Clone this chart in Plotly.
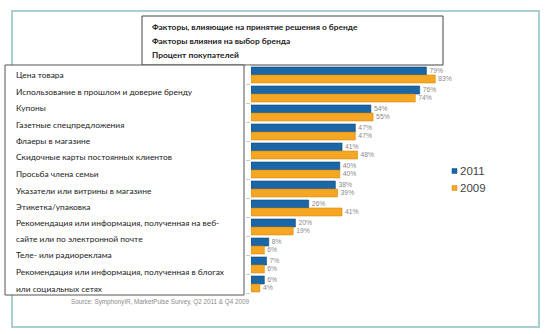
import plotly.graph_objects as go

W, H = 546, 334

categories = [
    "Цена товара",
    "Использование в прошлом и доверие бренду",
    "Купоны",
    "Газетные спецпредложения",
    "Флаеры в магазине",
    "Скидочные карты постоянных клиентов",
    "Просьба члена семьи",
    "Указатели или витрины в магазине",
    "Этикетка/упаковка",
    "Рекомендация или информация, полученная на веб-сайте или по электронной почте",
    "Теле- или радиореклама",
    "Рекомендация или информация, полученная в блогах или социальных сетях",
]
label_lines = [
    "Цена товара",
    "Использование в прошлом и доверие бренду",
    "Купоны",
    "Газетные спецпредложения",
    "Флаеры в магазине",
    "Скидочные карты постоянных клиентов",
    "Просьба члена семьи",
    "Указатели или витрины в магазине",
    "Этикетка/упаковка",
    "Рекомендация или информация, полученная на веб-",
    "сайте или по электронной почте",
    "Теле- или радиореклама",
    "Рекомендация или информация, полученная в блогах",
    "или социальных сетях",
]
series_names = ["2011", "2009"]
values_2011 = [79, 76, 54, 47, 41, 40, 38, 26, 20, 8, 7, 6]
values_2009 = [83, 74, 55, 47, 48, 40, 39, 41, 19, 6, 6, 4]
title_lines = [
    "Факторы, влияющие на принятие решения о бренде",
    "Факторы влияния на выбор бренда",
    "Процент покупателей",
]
source_text = "Source: SymphonyIR, MarketPulse Survey, Q2 2011 & Q4 2009"

colors = ["#1b66a6", "#f5a623"]
line_colors = ["#0f4a80", "#d98a10"]


def px(x):
    return x / W


def py(y):
    return 1 - y / H


fig = go.Figure()
for name, vals, c, lc in zip(series_names, [values_2011, values_2009], colors, line_colors):
    fig.add_trace(go.Bar(
        y=categories, x=vals, orientation="h", name=name,
        marker=dict(color=c, line=dict(color=lc, width=0.6)),
        text=[f"{v}%" for v in vals], textposition="outside",
        textfont=dict(family="Liberation Sans", size=8.5, color="#8a8a8a"),
        cliponaxis=False, showlegend=False,
    ))

x0 = 251
ppp = 2.22
fig.update_layout(
    width=W, height=H,
    margin=dict(l=0, r=0, t=0, b=0),
    paper_bgcolor="white", plot_bgcolor="rgba(0,0,0,0)",
    barmode="group", bargap=0.16, bargroupgap=0,
    xaxis=dict(domain=[px(x0), 1], range=[0, (W - x0) / ppp],
               visible=False, fixedrange=True),
    yaxis=dict(domain=[py(293.5), py(65.5)], autorange="reversed",
               visible=False, type="category"),
    showlegend=False,
)

shapes = []
# outer teal frame
shapes.append(dict(type="rect", xref="paper", yref="paper",
                   x0=px(12), x1=px(539), y0=py(327), y1=py(11),
                   line=dict(color="#a9cfcf", width=2), fillcolor="rgba(0,0,0,0)", layer="below"))
# title box
shapes.append(dict(type="rect", xref="paper", yref="paper",
                   x0=px(142), x1=px(443), y0=py(65), y1=py(16),
                   line=dict(color="#444444", width=1), fillcolor="white", layer="below"))
# labels box
shapes.append(dict(type="rect", xref="paper", yref="paper",
                   x0=px(5), x1=px(244), y0=py(295), y1=py(65),
                   line=dict(color="#555555", width=1), fillcolor="white", layer="below"))
# small ticks between categories
for i in range(len(categories) + 1):
    yy = 65.5 + i * 19
    shapes.append(dict(type="line", xref="paper", yref="paper",
                       x0=px(246), x1=px(250), y0=py(yy), y1=py(yy),
                       line=dict(color="#cccccc", width=1)))

annotations = []
for i, t in enumerate(title_lines):
    annotations.append(dict(text=f"<b>{t}</b>", xref="paper", yref="paper",
                            x=px(150), y=py(27 + 14 * i), xanchor="left", yanchor="middle",
                            showarrow=False,
                            font=dict(family="Lato", size=8.4, color="#222222")))
label_y = [75, 92, 108, 125, 141, 157, 174, 191, 207, 223, 239, 255, 272, 289]
for t, yy in zip(label_lines, label_y):
    annotations.append(dict(text=t, xref="paper", yref="paper",
                            x=px(14), y=py(yy), xanchor="left", yanchor="middle",
                            showarrow=False,
                            font=dict(family="Lato", size=8.4, color="#222222")))
annotations.append(dict(text=source_text, xref="paper", yref="paper",
                        x=px(160), y=py(302), xanchor="center", yanchor="middle",
                        showarrow=False,
                        font=dict(family="Liberation Sans", size=6.3, color="#8a8a8a")))
# legend
for i, (name, c) in enumerate(zip(series_names, colors)):
    yy = 171 + 17 * i
    shapes.append(dict(type="rect", xref="paper", yref="paper",
                       x0=px(452), x1=px(457), y0=py(yy + 2.5), y1=py(yy - 2.5),
                       line=dict(color=line_colors[i], width=0.5), fillcolor=c))
    annotations.append(dict(text=name, xref="paper", yref="paper",
                            x=px(458), y=py(yy), xanchor="left", yanchor="middle",
                            showarrow=False,
                            font=dict(family="Liberation Sans", size=11.5, color="#444444")))

fig.update_layout(shapes=shapes, annotations=annotations)
fig.write_html("out.html")
